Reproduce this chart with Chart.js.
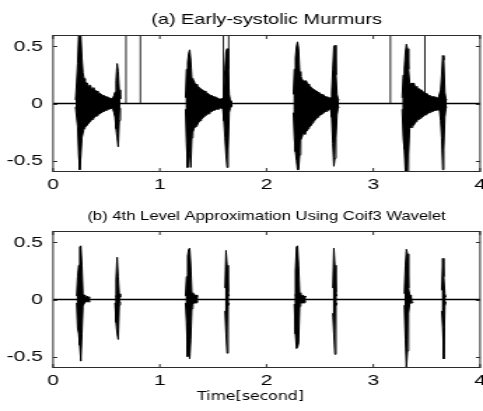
<!DOCTYPE html>
<html>
<head>
<meta charset="utf-8">
<script src="https://cdn.jsdelivr.net/npm/chart.js@4.4.1/dist/chart.umd.min.js"></script>
<style>
  html, body { margin: 0; padding: 0; background: #fff; overflow: hidden; }
  /* the original figure is stretched sideways, so each panel is drawn narrow and widened */
  .panel { position: absolute; left: 0; width: 345px; transform: scaleX(1.4); transform-origin: 0 0; }
  #wrapA { top: 0; height: 196px; }
  #wrapB { top: 196px; height: 215px; }
</style>
</head>
<body>
<div class="panel" id="wrapA"><canvas id="chartA"></canvas></div>
<div class="panel" id="wrapB"><canvas id="chartB"></canvas></div>
<script>
//---------------------------data---------------------------
var titleA = "(a) Early-systolic Murmurs";
var titleB = "(b) 4th Level Approximation Using Coif3 Wavelet";
var xLabel = "Time[second]";
var xTicks = [0, 1, 2, 3, 4];
var yTicks = [-0.5, 0, 0.5];

// signal envelope: [time, lowest, highest]
var burstA1 = [[0.21,-0.03,0.03],[0.22,-0.12,0.18],[0.23,-0.20,0.35],[0.24,-0.45,0.6],[0.25,-0.58,0.6],[0.26,-0.46,0.6],[0.27,-0.30,0.40],
  [0.28,-0.26,0.27],[0.29,-0.22,0.22],[0.30,-0.21,0.19],[0.31,-0.20,0.18],[0.32,-0.19,0.18],[0.33,-0.17,0.15],[0.34,-0.17,0.16],[0.35,-0.16,0.16],
  [0.36,-0.14,0.13],[0.37,-0.14,0.13],[0.38,-0.13,0.14],[0.39,-0.12,0.12],[0.40,-0.11,0.11],[0.41,-0.11,0.11],[0.42,-0.10,0.10],[0.43,-0.09,0.09],
  [0.44,-0.09,0.09],[0.45,-0.08,0.08],[0.46,-0.08,0.08],[0.47,-0.07,0.07],[0.48,-0.07,0.07],[0.49,-0.06,0.06],[0.50,-0.06,0.06],[0.51,-0.05,0.05],
  [0.52,-0.05,0.05],[0.53,-0.05,0.05],[0.54,-0.04,0.04],[0.55,-0.04,0.04],[0.56,-0.05,0.05],[0.57,-0.08,0.07],[0.58,-0.12,0.10],[0.59,-0.22,0.20],
  [0.60,-0.30,0.35],[0.61,-0.38,0.28],[0.62,-0.15,0.12],[0.63,-0.04,0.04]];
var burstA2 = [[1.24,-0.05,0.05],[1.25,-0.35,0.30],[1.26,-0.56,0.36],[1.27,-0.40,0.44],[1.28,-0.45,0.47],[1.29,-0.56,0.38],
  [1.30,-0.30,0.22],[1.31,-0.25,0.20],[1.32,-0.22,0.20],[1.33,-0.21,0.17],[1.34,-0.20,0.17],[1.35,-0.19,0.15],[1.36,-0.17,0.15],[1.37,-0.16,0.14],
  [1.38,-0.15,0.13],[1.39,-0.14,0.13],[1.40,-0.13,0.12],[1.41,-0.12,0.11],[1.42,-0.11,0.11],[1.43,-0.10,0.10],[1.44,-0.10,0.09],[1.45,-0.09,0.09],
  [1.46,-0.09,0.08],[1.47,-0.08,0.08],[1.48,-0.07,0.07],[1.49,-0.07,0.07],[1.50,-0.06,0.06],[1.51,-0.06,0.06],[1.52,-0.06,0.05],[1.53,-0.05,0.05],
  [1.54,-0.05,0.05],[1.55,-0.05,0.04],[1.56,-0.04,0.04],[1.57,-0.04,0.04],[1.58,-0.04,0.04],[1.59,-0.05,0.05],
  [1.60,-0.15,0.12],[1.61,-0.30,0.30],[1.62,-0.45,0.45],[1.63,-0.56,0.48],[1.64,-0.40,0.30],[1.65,-0.08,0.08],[1.66,-0.04,0.03],[1.67,-0.03,0.02],[1.68,-0.02,0.02]];
var burstA3 = [[2.25,-0.08,0.08],[2.26,-0.30,0.30],[2.27,-0.42,0.40],[2.28,-0.50,0.50],[2.29,-0.58,0.54],[2.30,-0.58,0.48],
  [2.31,-0.45,0.28],[2.32,-0.32,0.24],[2.33,-0.30,0.22],[2.34,-0.27,0.20],[2.35,-0.26,0.20],[2.36,-0.27,0.19],[2.37,-0.24,0.20],[2.38,-0.24,0.18],
  [2.39,-0.22,0.17],[2.40,-0.21,0.16],[2.41,-0.20,0.15],[2.42,-0.19,0.14],[2.43,-0.17,0.13],[2.44,-0.16,0.13],[2.45,-0.15,0.12],[2.46,-0.14,0.11],
  [2.47,-0.13,0.11],[2.48,-0.12,0.10],[2.49,-0.11,0.09],[2.50,-0.10,0.09],[2.51,-0.10,0.08],[2.52,-0.09,0.08],[2.53,-0.08,0.07],[2.54,-0.08,0.07],
  [2.55,-0.07,0.06],[2.56,-0.07,0.06],[2.57,-0.06,0.05],[2.58,-0.06,0.05],[2.59,-0.05,0.05],[2.60,-0.05,0.05],
  [2.61,-0.12,0.10],[2.62,-0.35,0.30],[2.63,-0.55,0.50],[2.64,-0.48,0.51],[2.65,-0.30,0.25],[2.66,-0.10,0.08],[2.67,-0.04,0.04],[2.68,-0.03,0.03]];
var burstA4 = [[3.27,-0.05,0.05],[3.28,-0.30,0.25],[3.29,-0.40,0.30],[3.30,-0.6,0.45],[3.31,-0.6,0.52],[3.32,-0.6,0.48],[3.33,-0.45,0.30],
  [3.34,-0.22,0.18],[3.35,-0.21,0.17],[3.36,-0.21,0.18],[3.37,-0.19,0.17],[3.38,-0.19,0.18],[3.39,-0.17,0.15],[3.40,-0.16,0.15],[3.41,-0.15,0.14],
  [3.42,-0.14,0.13],[3.43,-0.14,0.13],[3.44,-0.13,0.12],[3.45,-0.12,0.11],[3.46,-0.12,0.11],[3.47,-0.11,0.10],[3.48,-0.10,0.09],[3.49,-0.10,0.09],
  [3.50,-0.09,0.08],[3.51,-0.09,0.08],[3.52,-0.08,0.07],[3.53,-0.08,0.07],[3.54,-0.07,0.07],[3.55,-0.07,0.06],[3.56,-0.07,0.06],[3.57,-0.06,0.06],
  [3.58,-0.06,0.05],[3.59,-0.06,0.05],[3.60,-0.06,0.05],[3.61,-0.05,0.05],[3.62,-0.06,0.05],
  [3.63,-0.15,0.12],[3.64,-0.30,0.25],[3.65,-0.58,0.42],[3.66,-0.40,0.38],[3.67,-0.12,0.10],[3.68,-0.04,0.04],[3.69,-0.03,0.03]];
var spikesA = [0.683, 0.818, 1.595, 1.645, 3.16, 3.483];
var spikeTop = 0.6;

var burstB1 = [[0.22,-0.03,0.03],[0.23,-0.25,0.20],[0.24,-0.30,0.30],[0.25,-0.40,0.46],[0.26,-0.54,0.47],[0.27,-0.30,0.30],[0.28,-0.06,0.05],[0.29,-0.03,0.04],[0.30,-0.03,0.03],[0.31,-0.02,0.02],[0.32,-0.02,0.03],[0.33,-0.02,0.02],[0.34,-0.02,0.02],[0.35,-0.02,0.02]];
var burstB2 = [[0.58,-0.03,0.03],[0.59,-0.20,0.18],[0.60,-0.30,0.37],[0.61,-0.35,0.20],[0.62,-0.05,0.05],[0.63,-0.02,0.02]];
var burstB3 = [[1.24,-0.03,0.03],[1.25,-0.20,0.20],[1.26,-0.50,0.38],[1.27,-0.40,0.44],[1.28,-0.52,0.45],[1.29,-0.35,0.30],[1.30,-0.08,0.06],[1.31,-0.04,0.04],[1.32,-0.03,0.05],[1.33,-0.03,0.03],[1.34,-0.03,0.04],[1.35,-0.02,0.03],[1.36,-0.02,0.02]];
var burstB4 = [[1.61,-0.10,0.10],[1.62,-0.30,0.43],[1.63,-0.47,0.30],[1.64,-0.06,0.06],[1.65,-0.03,0.03]];
var burstB5 = [[2.26,-0.04,0.04],[2.27,-0.30,0.25],[2.28,-0.43,0.46],[2.29,-0.42,0.47],[2.30,-0.38,0.30],[2.31,-0.06,0.06],[2.32,-0.03,0.04],[2.33,-0.03,0.03],[2.34,-0.03,0.04],[2.35,-0.03,0.03],[2.36,-0.02,0.02],[2.37,-0.02,0.03]];
var burstB6 = [[2.62,-0.12,0.10],[2.63,-0.30,0.45],[2.64,-0.48,0.30],[2.65,-0.06,0.06],[2.66,-0.03,0.03]];
var burstB7 = [[3.29,-0.05,0.05],[3.30,-0.35,0.30],[3.31,-0.6,0.44],[3.32,-0.45,0.40],[3.33,-0.12,0.10],[3.34,-0.04,0.04],[3.35,-0.03,0.04],[3.36,-0.03,0.03],[3.37,-0.02,0.03]];
var burstB8 = [[3.64,-0.10,0.08],[3.65,-0.25,0.36],[3.66,-0.52,0.20],[3.67,-0.06,0.05],[3.68,-0.02,0.02]];

var baseline = [[0, 0], [4, 0]];

//---------------------------helpers---------------------------
// one edge (column 1 = lowest, 2 = highest) of all bursts, a null point between bursts
function edge(bursts, col) {
  var pts = [];
  bursts.forEach(function (rows) {
    rows.forEach(function (r) { pts.push({ x: r[0], y: r[col] }); });
    pts.push({ x: rows[rows.length - 1][0], y: null });
  });
  return pts;
}

// each spike is a vertical segment from 0 to the top, broken by a null point
function spikeLine(times) {
  var pts = [];
  times.forEach(function (t) {
    pts.push({ x: t, y: 0 }, { x: t, y: spikeTop }, { x: t, y: null });
  });
  return pts;
}

// box, inward tick marks, the panel title (centred on the plot box) and the x label
var frameTicks = {
  id: 'frameTicks',
  afterDatasetsDraw: function (chart, args, opts) {
    var ctx = chart.ctx;
    var a = chart.chartArea;
    var xs = chart.scales.x;
    var ys = chart.scales.y;
    ctx.save();
    ctx.strokeStyle = '#2b2b2b';
    ctx.lineWidth = 1;
    ctx.strokeRect(a.left, a.top + 0.5, a.right - a.left, a.bottom - a.top - 1);
    ctx.beginPath();
    xTicks.forEach(function (v) {
      var px = xs.getPixelForValue(v);
      ctx.moveTo(px, a.bottom); ctx.lineTo(px, a.bottom - 4);
      ctx.moveTo(px, a.top); ctx.lineTo(px, a.top + 4);
    });
    yTicks.forEach(function (v) {
      var py = Math.round(ys.getPixelForValue(v)) + 0.5;
      ctx.moveTo(a.left, py); ctx.lineTo(a.left + 3, py);
      ctx.moveTo(a.right, py); ctx.lineTo(a.right - 3, py);
    });
    ctx.stroke();
    ctx.fillStyle = '#000';
    ctx.font = opts.size + 'px "Liberation Sans", Arial, sans-serif';
    ctx.textAlign = 'center';
    ctx.textBaseline = 'middle';
    ctx.fillText(opts.text, (a.left + a.right) / 2, 20.5);
    if (opts.xTitle) {
      // the label sits a little left of the axis middle in the original
      ctx.font = '12.5px "Liberation Sans Narrow", "DejaVu Sans Condensed", sans-serif';
      ctx.fillText(opts.xTitle, xs.getPixelForValue(1.85), 201);
    }
    ctx.restore();
  }
};

function makeOptions(title, titleSize, xTitle, xAxisHeight) {
  return {
    responsive: true,
    maintainAspectRatio: false,
    animation: false,
    layout: { padding: { left: 0, right: 2.1, top: 35, bottom: 0 } },
    plugins: {
      legend: { display: false },
      tooltip: { enabled: false },
      frameTicks: { text: title, size: titleSize, xTitle: xTitle }
    },
    scales: {
      x: {
        type: 'linear', min: 0, max: 4,
        grid: { display: false, drawTicks: false },
        border: { display: false },
        ticks: { color: '#000', padding: 3.5, maxRotation: 0, autoSkip: false,
                 font: { family: 'Liberation Sans', size: 15 } },
        afterBuildTicks: function (s) { s.ticks = xTicks.map(function (v) { return { value: v }; }); },
        afterFit: function (s) { s.height = xAxisHeight; s.paddingLeft = 0; s.paddingRight = 0; }
      },
      y: {
        type: 'linear', min: -0.6, max: 0.6,
        grid: { display: false, drawTicks: false },
        border: { display: false },
        ticks: { color: '#000', padding: 7.2, font: { family: 'Liberation Sans', size: 15 },
                 callback: function (v) { return String(v); } },
        afterBuildTicks: function (s) { s.ticks = yTicks.map(function (v) { return { value: v }; }); },
        afterFit: function (s) { s.width = 37.9; s.paddingTop = 0; s.paddingBottom = 0; }
      }
    }
  };
}

// upper edge filled down to the lower edge gives the solid black trace
function makeDatasets(bursts, spikes) {
  var sets = [
    { data: edge(bursts, 2), borderColor: '#000', backgroundColor: '#000', borderWidth: 1,
      fill: '+1', pointRadius: 0, spanGaps: false, tension: 0, clip: 0, order: 1 },
    { data: edge(bursts, 1), borderColor: '#000', borderWidth: 1,
      fill: false, pointRadius: 0, spanGaps: false, tension: 0, clip: 0, order: 1 },
    { data: baseline.map(function (p) { return { x: p[0], y: p[1] }; }),
      borderColor: '#000', borderWidth: 1.6, pointRadius: 0, clip: 0, order: 3 }
  ];
  if (spikes) {
    sets.push({ data: spikes, borderColor: '#111', borderWidth: 0.95,
                pointRadius: 0, spanGaps: false, clip: 0, order: 2 });
  }
  return sets;
}

//---------------------------charts---------------------------
document.addEventListener('DOMContentLoaded', function () {
  insertPanelA();
  insertPanelB();
});

function insertPanelA() {
  new Chart(document.getElementById("chartA"), {
    type: 'line',
    data: { datasets: makeDatasets([burstA1, burstA2, burstA3, burstA4], spikeLine(spikesA)) },
    options: makeOptions(titleA, 14.2, null, 24),
    plugins: [frameTicks]
  });
}

function insertPanelB() {
  new Chart(document.getElementById("chartB"), {
    type: 'line',
    data: { datasets: makeDatasets([burstB1, burstB2, burstB3, burstB4, burstB5, burstB6, burstB7, burstB8], null) },
    options: makeOptions(titleB, 11.9, xLabel, 43),
    plugins: [frameTicks]
  });
}
</script>
</body>
</html>
